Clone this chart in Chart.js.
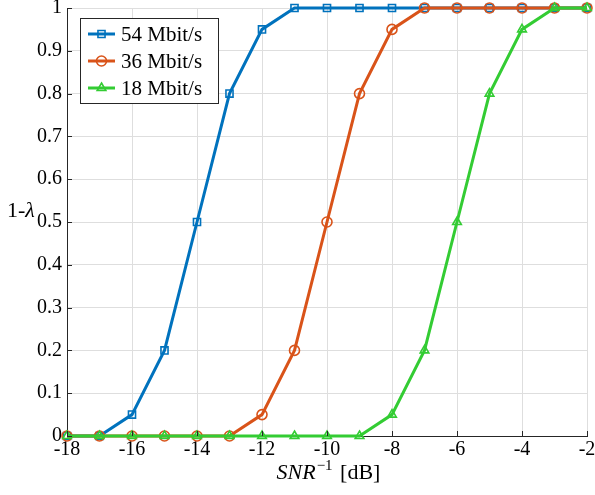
<!DOCTYPE html>
<html>
<head>
<meta charset="utf-8">
<script src="https://cdn.jsdelivr.net/npm/chart.js@4.4.1/dist/chart.umd.min.js"></script>
<style>
   html, body { margin: 0; padding: 0; background: #fff; }
   #wrap { width: 595px; height: 495px; position: relative; }
</style>
</head>
<body>
<div id="wrap"><canvas id="chart"></canvas></div>
<script>
const snr = [-18, -17, -16, -15, -14, -13, -12, -11, -10, -9, -8, -7, -6, -5, -4, -3, -2];
const rate54 = [0, 0, 0.05, 0.2, 0.5, 0.8, 0.95, 1, 1, 1, 1, 1, 1, 1, 1, 1, 1];
const rate36 = [0, 0, 0, 0, 0, 0, 0.05, 0.2, 0.5, 0.8, 0.95, 1, 1, 1, 1, 1, 1];
const rate18 = [0, 0, 0, 0, 0, 0, 0, 0, 0, 0, 0.05, 0.2, 0.5, 0.8, 0.95, 1, 1];
const seriesNames = ['54 Mbit/s', '36 Mbit/s', '18 Mbit/s'];

const FONT = '"Liberation Serif", "DejaVu Serif", serif';
const axisColor = '#262626';

function makeSet(name, values, color, marker, order){
   return {
      label: name,
      data: values.map((v, i) => ({x: snr[i], y: v})),
      borderColor: color,
      backgroundColor: color,
      borderWidth: 3,
      pointStyle: marker,
      pointRadius: 5,
      pointBorderWidth: 1.6,
      pointBorderColor: color,
      pointBackgroundColor: 'rgba(0,0,0,0)',
      tension: 0,
      clip: false,
      order: order
   };
}

// inward ticks, axis titles and the boxed legend
const extras = {
   id: 'extras',
   afterDraw(chart){
      const ctx = chart.ctx;
      const area = chart.chartArea;
      const xs = chart.scales.x, ys = chart.scales.y;
      ctx.save();
      ctx.strokeStyle = axisColor;
      ctx.lineWidth = 1;
      ctx.beginPath();
      xs.ticks.forEach((t) => {
         let px = Math.round(xs.getPixelForValue(t.value)) + 0.5;
         ctx.moveTo(px, area.bottom);
         ctx.lineTo(px, area.bottom - 5);
      });
      ys.ticks.forEach((t) => {
         let py = Math.round(ys.getPixelForValue(t.value)) + 0.5;
         ctx.moveTo(area.left, py);
         ctx.lineTo(area.left + 5, py);
      });
      ctx.stroke();

      // x title: SNR^-1 [dB]
      ctx.fillStyle = '#000';
      ctx.textBaseline = 'alphabetic';
      ctx.font = 'italic 22px ' + FONT;
      let w1 = ctx.measureText('SNR').width;
      ctx.font = '15px ' + FONT;
      let w2 = ctx.measureText('−1').width;
      ctx.font = '22px ' + FONT;
      let w3 = ctx.measureText(' [dB]').width;
      let x0 = (area.left + area.right) / 2 - (w1 + w2 + w3) / 2;
      let by = 479;
      ctx.font = 'italic 22px ' + FONT;
      ctx.fillText('SNR', x0, by);
      ctx.font = '15px ' + FONT;
      ctx.fillText('−1', x0 + w1 + 1, by - 9);
      ctx.font = '22px ' + FONT;
      ctx.fillText(' [dB]', x0 + w1 + w2 + 3, by);

      // y title: 1-λ
      ctx.font = '22px ' + FONT;
      ctx.fillText('1-', 7, 217);
      let wd = ctx.measureText('1-').width;
      ctx.font = 'italic 22px ' + FONT;
      ctx.fillText('λ', 7 + wd, 217);

      // legend box
      const lx = 80, ly = 18, lw = 138, lh = 85;
      ctx.fillStyle = '#fff';
      ctx.fillRect(lx, ly, lw, lh);
      ctx.strokeStyle = axisColor;
      ctx.lineWidth = 1;
      ctx.strokeRect(lx + 0.5, ly + 0.5, lw, lh);
      chart.data.datasets.forEach((ds, i) => {
         let cy = 34 + i * 27;
         ctx.strokeStyle = ds.borderColor;
         ctx.lineWidth = 3;
         ctx.beginPath();
         ctx.moveTo(88, cy);
         ctx.lineTo(115, cy);
         ctx.stroke();
         ctx.fillStyle = 'rgba(0,0,0,0)';
         ctx.lineWidth = 1.6;
         Chart.helpers.drawPoint(ctx, {pointStyle: ds.pointStyle, radius: 5, borderWidth: 1.6}, 101.5, cy);
         ctx.fillStyle = '#000';
         ctx.font = '21px ' + FONT;
         ctx.textBaseline = 'middle';
         ctx.fillText(ds.label, 121, cy + 1);
      });
      ctx.restore();
   }
};

const chart = new Chart(document.getElementById('chart').getContext('2d'), {
   type: 'line',
   data: {
      datasets: [
         makeSet(seriesNames[0], rate54, '#0072BD', 'rect', 3),
         makeSet(seriesNames[1], rate36, '#D95319', 'circle', 2),
         makeSet(seriesNames[2], rate18, '#33CC33', 'triangle', 1)
      ]
   },
   options: {
      responsive: true,
      maintainAspectRatio: false,
      animation: false,
      layout: { padding: { top: 8, right: 8, left: 0, bottom: 0 } },
      plugins: { legend: { display: false }, tooltip: { enabled: false } },
      scales: {
         x: {
            type: 'linear',
            min: -18, max: -2,
            ticks: { stepSize: 2, color: '#000', font: { family: FONT, size: 20 }, padding: 2, maxRotation: 0 },
            grid: { color: '#dedede', drawTicks: false },
            border: { color: axisColor, width: 1 },
            afterFit: (s) => { s.height = 59; s.paddingLeft = 0; s.paddingRight = 2; }
         },
         y: {
            min: 0, max: 1,
            ticks: {
               stepSize: 0.1, color: '#000', font: { family: FONT, size: 20 }, padding: 5,
               callback: (v) => String(Number(v.toFixed(1)))
            },
            grid: { color: '#dedede', drawTicks: false },
            border: { color: axisColor, width: 1 },
            afterFit: (s) => { s.width = 67; s.paddingTop = 0; s.paddingBottom = 0; }
         }
      }
   },
   plugins: [extras]
});
</script>
</body>
</html>
